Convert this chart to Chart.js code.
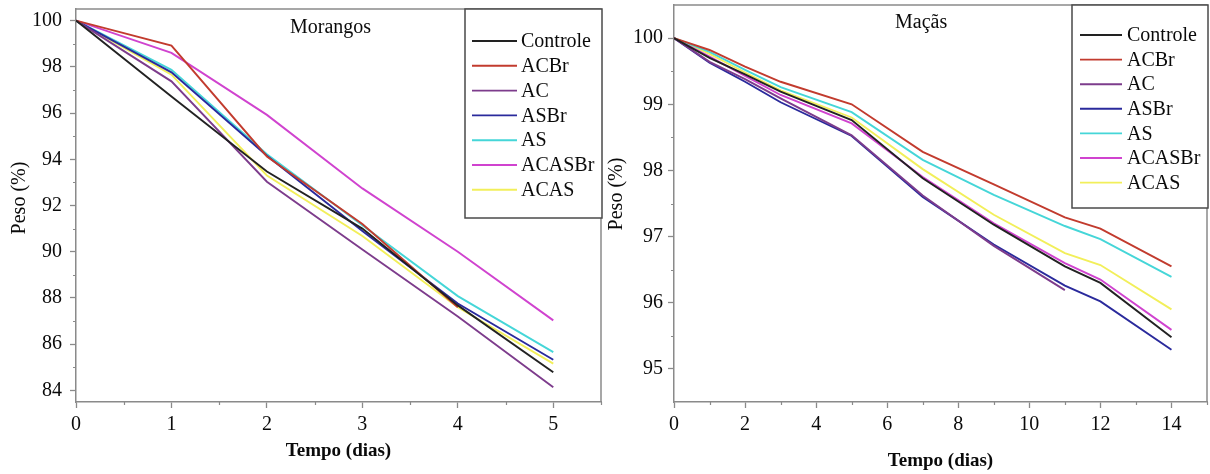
<!DOCTYPE html>
<html>
<head>
<meta charset="utf-8">
<script src="https://cdn.jsdelivr.net/npm/chart.js@4.4.0/dist/chart.umd.min.js"></script>
<style>
	html, body { margin: 0; padding: 0; background: #fff; }
	#wrap { position: relative; width: 1210px; height: 474px; }
	canvas { position: absolute; top: 0; }
</style>
</head>
<body>
<div id="wrap">
	<canvas id="morangos" width="605" height="474" style="left:0"></canvas>
	<canvas id="macas" width="605" height="474" style="left:605px"></canvas>
</div>
<script>
const seriesNames = ["Controle", "ACBr", "AC", "ASBr", "AS", "ACASBr", "ACAS"];
const seriesColors = ["#222222", "#c23b2e", "#7d3c8c", "#2a2a9c", "#45d6d8", "#d043cf", "#f2ef5a"];

// Morangos (strawberries)
const morangosDays = [0, 1, 2, 3, 4, 5];
const morangosControle = [100, 96.72, 93.47, 91.0, 87.68, 84.79];
const morangosACBr = [100, 98.92, 94.12, 91.2, 87.6];
const morangosAC = [100, 97.37, 93.03, 90.1, 87.2, 84.14];
const morangosASBr = [100, 97.76, 94.15, 90.9, 87.76, 85.33];
const morangosAS = [100, 97.87, 94.22, 91.15, 88.08, 85.66];
const morangosACASBr = [100, 98.6, 95.92, 92.74, 90.0, 87.03];
const morangosACAS = [100, 97.66, 93.3, 90.68, 87.6, 85.16];
const morangosXTicks = [0, 1, 2, 3, 4, 5];
const morangosYTicks = [84, 86, 88, 90, 92, 94, 96, 98, 100];

// Maçãs (apples)
const macasDays = [0, 1, 2, 3, 5, 7, 9, 11, 12, 14];
const macasControle = [100, 99.70, 99.45, 99.19, 98.76, 97.88, 97.18, 96.55, 96.30, 95.48];
const macasACBr = [100, 99.82, 99.57, 99.34, 99.00, 98.28, 97.79, 97.29, 97.12, 96.55];
const macasAC = [100, 99.64, 99.38, 99.09, 98.53, 97.62, 96.86, 96.19];
const macasASBr = [100, 99.63, 99.34, 99.03, 98.52, 97.60, 96.88, 96.26, 96.02, 95.29];
const macasAS = [100, 99.79, 99.52, 99.26, 98.88, 98.16, 97.63, 97.16, 96.96, 96.39];
const macasACASBr = [100, 99.72, 99.43, 99.14, 98.71, 97.90, 97.20, 96.60, 96.35, 95.59];
const macasACAS = [100, 99.76, 99.48, 99.21, 98.80, 98.02, 97.33, 96.75, 96.57, 95.90];
const macasXTicks = [0, 2, 4, 6, 8, 10, 12, 14];
const macasYTicks = [95, 96, 97, 98, 99, 100];

const SERIF = "'Liberation Serif', 'Times New Roman', serif";
const AXIS_GRAY = "#8a8a8a";
const TEXT = "#0a0a0a";

function makeDatasets(days, seriesList) {
	return seriesList.map((values, i) => ({
		label: seriesNames[i],
		data: values.map((v, k) => ({ x: days[k], y: v })),
		borderColor: seriesColors[i],
		backgroundColor: seriesColors[i],
		borderWidth: 1.9,
		pointRadius: 0,
		tension: 0,
	}));
}

// draws the box frame, minor ticks, y title, panel title and the boxed legend
const panelDecor = {
	id: "panelDecor",
	afterDraw(chart, args, opts) {
		const ctx = chart.ctx;
		const area = chart.chartArea;
		const xs = chart.scales.x;
		const ys = chart.scales.y;
		ctx.save();

		ctx.strokeStyle = AXIS_GRAY;
		ctx.lineWidth = 1.5;
		ctx.beginPath();
		ctx.moveTo(area.left, area.top);
		ctx.lineTo(area.right, area.top);
		ctx.lineTo(area.right, area.bottom);
		ctx.stroke();

		ctx.lineWidth = 1.2;
		ctx.beginPath();
		opts.minorX.forEach((v) => {
			const px = Math.round(xs.getPixelForValue(v)) + 0.5;
			ctx.moveTo(px, area.bottom);
			ctx.lineTo(px, area.bottom + 3);
		});
		opts.minorY.forEach((v) => {
			const py = Math.round(ys.getPixelForValue(v)) + 0.5;
			ctx.moveTo(area.left - 3, py);
			ctx.lineTo(area.left, py);
		});
		ctx.stroke();

		ctx.fillStyle = TEXT;
		ctx.font = "20px " + SERIF;
		ctx.textBaseline = "middle";
		ctx.textAlign = "left";
		ctx.fillText(opts.title, opts.titleX, opts.titleY);

		// rotated y axis title
		ctx.save();
		ctx.translate(opts.yTitleX, opts.yTitleY);
		ctx.rotate(-Math.PI / 2);
		ctx.textAlign = "center";
		ctx.fillText("Peso (%)", 0, 0);
		ctx.restore();

		const lg = opts.legend;
		ctx.fillStyle = "#fff";
		ctx.fillRect(lg.x, lg.y, lg.w, lg.h);
		ctx.strokeStyle = "#4a4a4a";
		ctx.lineWidth = 1.5;
		ctx.strokeRect(lg.x, lg.y, lg.w, lg.h);
		chart.data.datasets.forEach((ds, i) => {
			const y = lg.rowY + i * lg.rowStep;
			ctx.strokeStyle = ds.borderColor;
			ctx.lineWidth = 1.9;
			ctx.beginPath();
			ctx.moveTo(lg.lineX1, y);
			ctx.lineTo(lg.lineX2, y);
			ctx.stroke();
			ctx.fillStyle = TEXT;
			ctx.fillText(ds.label, lg.textX, y + 1);
		});
		ctx.restore();
	},
};

function makeChart(id, cfg) {
	return new Chart(document.getElementById(id), {
		type: "line",
		data: { datasets: cfg.datasets },
		plugins: [panelDecor],
		options: {
			responsive: false,
			animation: false,
			devicePixelRatio: 1,
			layout: { padding: cfg.padding },
			plugins: {
				legend: { display: false },
				tooltip: { enabled: false },
				panelDecor: cfg.decor,
			},
			scales: {
				x: {
					type: "linear",
					min: cfg.xMin,
					max: cfg.xMax,
					afterBuildTicks: (scale) => {
						scale.ticks = cfg.xTicks.map((v) => ({ value: v }));
					},
					afterFit: (scale) => {
						scale.height = 72;
						scale.paddingLeft = 0;
						scale.paddingRight = 0;
					},
					grid: {
						drawOnChartArea: false,
						drawTicks: true,
						tickLength: 6,
						tickColor: AXIS_GRAY,
						tickWidth: 1.3,
					},
					border: { display: true, color: AXIS_GRAY, width: 1.5 },
					ticks: {
						color: TEXT,
						padding: 5,
						maxRotation: 0,
						font: { family: SERIF, size: 20 },
					},
					title: {
						display: true,
						text: "Tempo (dias)",
						color: TEXT,
						font: { family: SERIF, size: 19, weight: "bold" },
						padding: { top: 0, bottom: cfg.xTitlePad },
					},
				},
				y: {
					min: cfg.yMin,
					max: cfg.yMax,
					afterBuildTicks: (scale) => {
						scale.ticks = cfg.yTicks.map((v) => ({ value: v }));
					},
					afterFit: (scale) => {
						scale.width = cfg.yWidth;
						scale.paddingTop = 0;
						scale.paddingBottom = 0;
					},
					grid: {
						drawOnChartArea: false,
						drawTicks: true,
						tickLength: 6,
						tickColor: AXIS_GRAY,
						tickWidth: 1.3,
					},
					border: { display: true, color: AXIS_GRAY, width: 1.5 },
					ticks: {
						color: TEXT,
						padding: cfg.yTickPad,
						font: { family: SERIF, size: 20 },
					},
				},
			},
		},
	});
}

makeChart("morangos", {
	datasets: makeDatasets(morangosDays, [
		morangosControle, morangosACBr, morangosAC, morangosASBr,
		morangosAS, morangosACASBr, morangosACAS,
	]),
	padding: { left: 0, top: 9, right: 4, bottom: 0 },
	xMin: 0, xMax: 5.5, xTicks: morangosXTicks,
	yMin: 83.5, yMax: 100.5, yTicks: morangosYTicks,
	yWidth: 76, yTickPad: 8, xTitlePad: 12,
	decor: {
		title: "Morangos", titleX: 290, titleY: 28,
		yTitleX: 20, yTitleY: 198,
		minorX: [0.5, 1.5, 2.5, 3.5, 4.5, 5.5],
		minorY: [85, 87, 89, 91, 93, 95, 97, 99],
		legend: { x: 465, y: 9, w: 137, h: 209, rowY: 41, rowStep: 24.8, lineX1: 472, lineX2: 517, textX: 521 },
	},
});

makeChart("macas", {
	datasets: makeDatasets(macasDays, [
		macasControle, macasACBr, macasAC, macasASBr,
		macasAS, macasACASBr, macasACAS,
	]),
	padding: { left: 0, top: 5, right: 3, bottom: 0 },
	xMin: 0, xMax: 15, xTicks: macasXTicks,
	yMin: 94.5, yMax: 100.5, yTicks: macasYTicks,
	yWidth: 69, yTickPad: 5, xTitlePad: 2,
	decor: {
		title: "Maçãs", titleX: 290, titleY: 23,
		yTitleX: 12, yTitleY: 194,
		minorX: [1, 3, 5, 7, 9, 11, 13, 15],
		minorY: [95.5, 96.5, 97.5, 98.5, 99.5],
		legend: { x: 467, y: 5, w: 136, h: 203, rowY: 35, rowStep: 24.6, lineX1: 475, lineX2: 517, textX: 522 },
	},
});
</script>
</body>
</html>
